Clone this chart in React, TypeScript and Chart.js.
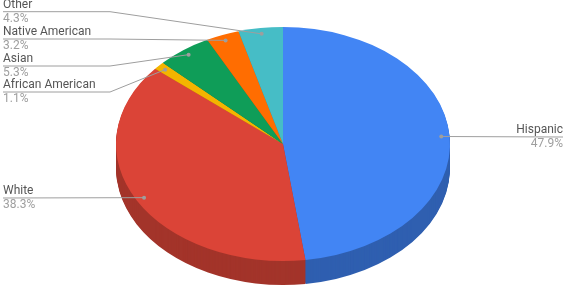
import React, { useEffect, useRef } from "react";
import { Chart, registerables } from "chart.js";

Chart.register(...registerables);

const categories = ["Hispanic", "White", "African American", "Asian", "Native American", "Other"];
const values = [47.9, 38.3, 1.1, 5.3, 3.2, 4.3];
const percentLabels = ["47.9%", "38.3%", "1.1%", "5.3%", "3.2%", "4.3%"];

const topColors = ["#4285f4", "#db4437", "#f4b400", "#0f9d58", "#ff6d01", "#46bdc6"];
const sideColors = ["#2f5fb0", "#a3342a", "#ad8000", "#0b6f3e", "#b54d00", "#32868c"];

// layout of the 3D look and label placement
const SCALE_X = 167 / 117;
const DEPTH = 24;
const ANCHOR_FRAC = 0.95;
// per-label: side, y of leader line, bend x (null = straight)
const labelLayout = [
  { side: "right", y: 137, bend: null },
  { side: "left", y: 198, bend: null },
  { side: "left", y: 92, bend: 110 },
  { side: "left", y: 66, bend: 110 },
  { side: "left", y: 39, bend: 110 },
  { side: "left", y: 11.7, bend: 110 },
];

const pie3d = {
  id: "pie3d",
  beforeDatasetsDraw(chart: any) {
    const ctx = chart.ctx;
    const meta = chart.getDatasetMeta(0);
    const arcs = meta.data;
    if (!arcs.length) return;
    const cx = arcs[0].x;
    const cy = arcs[0].y;
    for (let d = DEPTH; d >= 1; d--) {
      ctx.save();
      ctx.translate(0, d);
      ctx.translate(cx, cy);
      ctx.scale(SCALE_X, 1);
      ctx.translate(-cx, -cy);
      arcs.forEach((arc: any, i: number) => {
        const orig = arc.options.backgroundColor;
        arc.options.backgroundColor = sideColors[i];
        arc.draw(ctx);
        arc.options.backgroundColor = orig;
      });
      ctx.restore();
    }
    ctx.save();
    ctx.translate(cx, cy);
    ctx.scale(SCALE_X, 1);
    ctx.translate(-cx, -cy);
  },
  afterDatasetsDraw(chart: any) {
    chart.ctx.restore();
  },
  afterDraw(chart: any) {
    const ctx = chart.ctx;
    const meta = chart.getDatasetMeta(0);
    const W = chart.width;
    ctx.save();
    meta.data.forEach((arc: any, i: number) => {
      const mid = (arc.startAngle + arc.endAngle) / 2;
      const r = arc.outerRadius * ANCHOR_FRAC;
      const ax = arc.x + Math.cos(mid) * r * SCALE_X;
      const ay = arc.y + Math.sin(mid) * r;
      const L = labelLayout[i];
      ctx.strokeStyle = "#9e9e9e";
      ctx.lineWidth = 1;
      ctx.beginPath();
      if (L.side === "right") {
        ctx.moveTo(W - 1, L.y);
        ctx.lineTo(ax, ay);
      } else {
        ctx.moveTo(3, L.y);
        if (L.bend !== null) ctx.lineTo(L.bend, L.y);
        ctx.lineTo(ax, ay);
      }
      ctx.stroke();
      ctx.fillStyle = "#9e9e9e";
      ctx.beginPath();
      ctx.arc(ax, ay, 2, 0, Math.PI * 2);
      ctx.fill();

      ctx.font = "12px Roboto";
      const tx = L.side === "right" ? W - 1 : 3;
      ctx.textAlign = L.side === "right" ? "right" : "left";
      ctx.fillStyle = "#555555";
      ctx.textBaseline = "bottom";
      ctx.fillText(categories[i], tx, L.y - 1);
      ctx.fillStyle = "#9e9e9e";
      ctx.textBaseline = "top";
      ctx.fillText(percentLabels[i], tx, L.y + 1);
    });
    ctx.restore();
  },
};

export default function App() {
  const ref = useRef<HTMLCanvasElement>(null);
  useEffect(() => {
    document.body.style.margin = "0";
    const chart = new Chart(ref.current!, {
      type: "pie",
      data: {
        labels: categories,
        datasets: [
          {
            data: values,
            backgroundColor: topColors,
            borderWidth: 0,
            clip: false as any,
          },
        ],
      },
      options: {
        responsive: false,
        animation: false,
        layout: { padding: { top: 27, bottom: 27, left: 166, right: 164 } },
        plugins: { legend: { display: false }, tooltip: { enabled: false } },
      },
      plugins: [pie3d],
    });
    return () => chart.destroy();
  }, []);
  return (
    <div style={{ width: 564, height: 288, background: "#fff" }}>
      <canvas ref={ref} width={564} height={288} />
    </div>
  );
}
